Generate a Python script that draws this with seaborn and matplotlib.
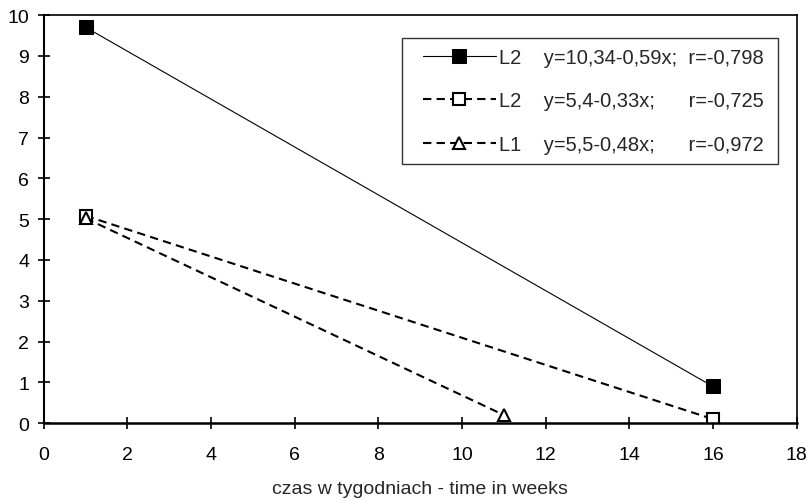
import matplotlib
matplotlib.use("Agg")
import matplotlib.pyplot as plt
from matplotlib.lines import Line2D
from matplotlib.legend_handler import HandlerLine2D
import seaborn as sns

# Series data: week of measurement and value
weeks_a = [1, 16]
vals_a = [9.7, 0.9]
weeks_b = [1, 16]
vals_b = [5.08, 0.1]
weeks_c = [1, 11]
vals_c = [5.02, 0.2]

labels = [
    "L2    y=10,34-0,59x;  r=-0,798\u2009",
    "L2    y=5,4-0,33x;      r=-0,725\u2009",
    "L1    y=5,5-0,48x;      r=-0,972\u2009",
]
x_ticks = list(range(0, 19, 2))
y_ticks = list(range(0, 11))
x_label = "czas w tygodniach - time in weeks"

sns.set_theme(style="ticks")
plt.rcParams["font.family"] = ["Liberation Sans", "DejaVu Sans"]

fig = plt.figure(figsize=(8.12, 5.02), dpi=100)
ax = fig.add_axes([0.054, 0.155, 0.927, 0.813])

sns.lineplot(x=weeks_a, y=vals_a, ax=ax, color="black", linewidth=0.8,
             marker="s", markersize=10, markerfacecolor="black",
             markeredgecolor="black", label=labels[0])
sns.lineplot(x=weeks_b, y=vals_b, ax=ax, color="black", linewidth=1.5,
             linestyle=(0, (4, 2.5)), marker="s", markersize=9,
             markerfacecolor="white", markeredgecolor="black",
             markeredgewidth=1.5, label=labels[1])
sns.lineplot(x=weeks_c, y=vals_c, ax=ax, color="black", linewidth=1.5,
             linestyle=(0, (4, 2.5)), marker="^", markersize=8,
             markerfacecolor="white", markeredgecolor="black",
             markeredgewidth=1.5, label=labels[2])

ax.set_xlim(0, 18)
ax.set_ylim(0, 10)
ax.set_xticks(x_ticks)
ax.set_yticks(y_ticks)
ax.tick_params(direction="inout", length=9, width=1.2, labelsize=14,
               colors="black")
ax.tick_params(axis="y", pad=6)
ax.tick_params(axis="x", pad=12)
for side in ["left", "right", "top", "bottom"]:
    ax.spines[side].set_visible(True)
    ax.spines[side].set_color("black")
ax.spines["left"].set_linewidth(1.5)
ax.spines["bottom"].set_linewidth(1.8)
ax.spines["top"].set_linewidth(1.2)
ax.spines["right"].set_linewidth(1.2)
ax.set_xlabel(x_label, fontsize=14, labelpad=12)
ax.set_ylabel("")

# Legend handles get a small left inset so the key sits away from the frame
leg = ax.legend(loc="upper right", bbox_to_anchor=(0.975, 0.945),
                fontsize=14.5, handlelength=4.18, frameon=True, fancybox=False,
                edgecolor="black", borderpad=0.5, labelspacing=1.22,
                handletextpad=0.15, borderaxespad=0,
                handler_map={Line2D: HandlerLine2D(xpad=0.55)})
leg.get_frame().set_linewidth(1.0)

fig.savefig("out.png", dpi=100)
